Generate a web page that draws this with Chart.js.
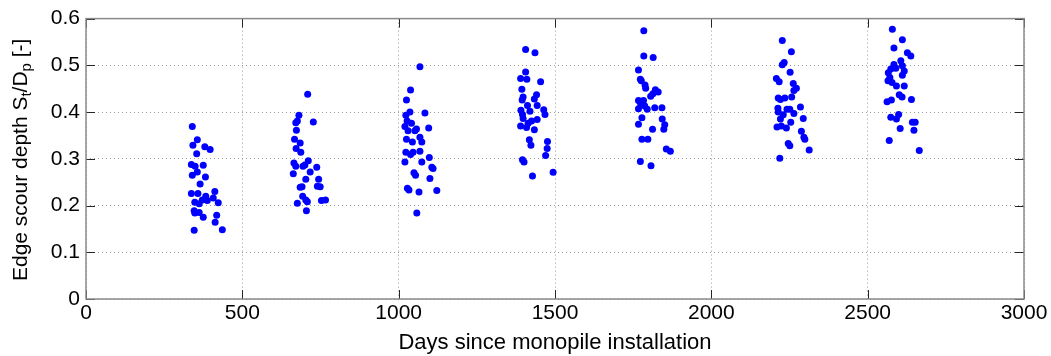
<!DOCTYPE html>
<html>
<head>
<meta charset="utf-8">
<script src="https://cdn.jsdelivr.net/npm/chart.js@4.4.1/dist/chart.umd.min.js"></script>
<style>
  html, body { margin: 0; padding: 0; background: #fff; }
  #wrap { width: 1051px; height: 356px; }
</style>
</head>
<body>
<div id="wrap"><canvas id="scour" width="1051" height="356"></canvas></div>
<script>
// survey campaigns: days since installation and edge scour depth S_t/D_p
const days1 = [340, 356, 342, 380, 397, 354, 337, 349, 375, 356, 340, 382, 365, 337, 358, 412, 383, 407, 372, 348, 362, 388, 423, 346, 362, 348, 375, 418, 413, 346, 436];
const depth1 = [0.369, 0.341, 0.329, 0.326, 0.320, 0.311, 0.288, 0.284, 0.286, 0.272, 0.265, 0.261, 0.246, 0.226, 0.226, 0.230, 0.220, 0.216, 0.212, 0.207, 0.204, 0.211, 0.206, 0.189, 0.185, 0.184, 0.175, 0.179, 0.164, 0.147, 0.148];

const days2 = [709, 681, 676, 671, 727, 673, 667, 685, 672, 687, 665, 671, 711, 700, 694, 738, 717, 663, 703, 744, 685, 691, 740, 749, 693, 703, 676, 708, 753, 766, 705];
const depth2 = [0.438, 0.393, 0.381, 0.377, 0.379, 0.361, 0.342, 0.334, 0.322, 0.314, 0.291, 0.284, 0.296, 0.287, 0.284, 0.282, 0.272, 0.268, 0.256, 0.256, 0.239, 0.240, 0.241, 0.240, 0.220, 0.212, 0.205, 0.208, 0.211, 0.212, 0.189];

const days3 = [1068, 1038, 1025, 1036, 1023, 1084, 1027, 1041, 1020, 1030, 1057, 1096, 1052, 1025, 1044, 1068, 1074, 1023, 1038, 1046, 1068, 1098, 1020, 1074, 1106, 1110, 1049, 1054, 1100, 1028, 1033, 1065, 1122, 1058];
const depth3 = [0.497, 0.447, 0.426, 0.400, 0.393, 0.398, 0.381, 0.376, 0.369, 0.360, 0.364, 0.366, 0.360, 0.342, 0.336, 0.346, 0.336, 0.314, 0.309, 0.314, 0.316, 0.303, 0.293, 0.293, 0.282, 0.279, 0.270, 0.265, 0.258, 0.237, 0.233, 0.229, 0.232, 0.184];

const days4 = [1406, 1436, 1406, 1390, 1410, 1454, 1394, 1398, 1395, 1441, 1434, 1412, 1443, 1391, 1420, 1396, 1464, 1468, 1398, 1443, 1425, 1414, 1390, 1409, 1434, 1418, 1423, 1476, 1475, 1470, 1396, 1401, 1428, 1494];
const depth4 = [0.534, 0.527, 0.486, 0.472, 0.470, 0.465, 0.449, 0.432, 0.426, 0.437, 0.428, 0.414, 0.414, 0.404, 0.402, 0.395, 0.405, 0.395, 0.386, 0.384, 0.381, 0.376, 0.370, 0.367, 0.362, 0.341, 0.329, 0.337, 0.322, 0.307, 0.298, 0.293, 0.263, 0.271];

const days5 = [1784, 1784, 1814, 1767, 1773, 1776, 1788, 1790, 1821, 1830, 1806, 1813, 1767, 1783, 1774, 1787, 1767, 1795, 1819, 1842, 1778, 1843, 1767, 1851, 1848, 1812, 1778, 1797, 1856, 1869, 1773, 1807];
const depth5 = [0.574, 0.520, 0.517, 0.490, 0.470, 0.467, 0.458, 0.451, 0.448, 0.443, 0.434, 0.439, 0.425, 0.425, 0.418, 0.413, 0.407, 0.406, 0.409, 0.409, 0.388, 0.385, 0.374, 0.373, 0.363, 0.363, 0.342, 0.342, 0.321, 0.316, 0.294, 0.285];

const days6 = [2227, 2256, 2233, 2227, 2252, 2208, 2217, 2262, 2272, 2264, 2257, 2214, 2221, 2235, 2285, 2213, 2242, 2251, 2214, 2264, 2230, 2221, 2294, 2254, 2210, 2224, 2240, 2288, 2296, 2299, 2246, 2251, 2313, 2219];
const depth6 = [0.553, 0.529, 0.506, 0.501, 0.485, 0.472, 0.465, 0.461, 0.451, 0.446, 0.432, 0.430, 0.427, 0.430, 0.411, 0.408, 0.406, 0.406, 0.400, 0.397, 0.394, 0.385, 0.386, 0.378, 0.368, 0.370, 0.366, 0.359, 0.346, 0.342, 0.333, 0.328, 0.319, 0.301];

const days7 = [2579, 2611, 2584, 2627, 2638, 2606, 2584, 2611, 2574, 2590, 2617, 2566, 2611, 2571, 2565, 2578, 2592, 2617, 2601, 2610, 2640, 2562, 2576, 2599, 2574, 2592, 2643, 2652, 2604, 2648, 2569, 2665];
const depth7 = [0.577, 0.555, 0.537, 0.527, 0.520, 0.510, 0.502, 0.499, 0.492, 0.494, 0.488, 0.484, 0.479, 0.474, 0.467, 0.463, 0.456, 0.456, 0.437, 0.432, 0.427, 0.422, 0.426, 0.395, 0.389, 0.385, 0.378, 0.378, 0.365, 0.361, 0.339, 0.318];

const xTicks = [0, 500, 1000, 1500, 2000, 2500, 3000];
const yTicks = [0, 0.1, 0.2, 0.3, 0.4, 0.5, 0.6];
const xTitle = 'Days since monopile installation';

const FONT = '"Liberation Sans", Arial, Helvetica, sans-serif';

const allDays = [days1, days2, days3, days4, days5, days6, days7];
const allDepth = [depth1, depth2, depth3, depth4, depth5, depth6, depth7];
const points = [];
allDays.forEach((ds, i) => {
  ds.forEach((d, j) => points.push({ x: d, y: allDepth[i][j] }));
});

// box, inward tick marks and the y title with subscripts
const matlabAxes = {
  id: 'matlabAxes',
  afterDraw(chart) {
    const { ctx, chartArea: a, scales: { x, y } } = chart;
    ctx.save();
    ctx.strokeStyle = '#262626';
    ctx.lineWidth = 1;
    ctx.beginPath();
    xTicks.forEach(v => {
      const px = Math.round(x.getPixelForValue(v)) + 0.5;
      ctx.moveTo(px, a.bottom); ctx.lineTo(px, a.bottom - 9);
      ctx.moveTo(px, a.top); ctx.lineTo(px, a.top + 9);
    });
    yTicks.forEach(v => {
      const py = Math.round(y.getPixelForValue(v)) + 0.5;
      ctx.moveTo(a.left, py); ctx.lineTo(a.left + 9, py);
      ctx.moveTo(a.right, py); ctx.lineTo(a.right - 9, py);
    });
    ctx.stroke();

    ctx.strokeStyle = '#8a8a8a';
    ctx.lineWidth = 1.5;
    ctx.strokeRect(a.left, a.top, a.right - a.left, a.bottom - a.top);

    // y axis title: Edge scour depth S_t/D_p [-]
    const big = '21px ' + FONT;
    const small = '15px ' + FONT;
    const parts = [
      { t: 'Edge scour depth S', f: big, dy: 0 },
      { t: 't', f: small, dy: 6 },
      { t: '/D', f: big, dy: 0 },
      { t: 'p', f: small, dy: 6 },
      { t: ' [-]', f: big, dy: 0 }
    ];
    let total = 0;
    parts.forEach(p => { ctx.font = p.f; p.w = ctx.measureText(p.t).width; total += p.w; });
    ctx.translate(21, (a.top + a.bottom) / 2 + 1);
    ctx.rotate(-Math.PI / 2);
    ctx.fillStyle = '#000';
    ctx.textBaseline = 'middle';
    let cx = -total / 2;
    parts.forEach(p => {
      ctx.font = p.f;
      ctx.fillText(p.t, cx, p.dy);
      cx += p.w;
    });
    ctx.restore();
  }
};

new Chart(document.getElementById('scour'), {
  type: 'scatter',
  data: {
    datasets: [{
      data: points,
      backgroundColor: '#0000ff',
      borderWidth: 0,
      pointRadius: 3.5
    }]
  },
  options: {
    responsive: false,
    animation: false,
    layout: { padding: { top: 14, right: 27, left: 0, bottom: 0 } },
    plugins: { legend: { display: false }, tooltip: { enabled: false } },
    scales: {
      x: {
        type: 'linear',
        min: 0,
        max: 3000,
        afterBuildTicks: s => { s.ticks = xTicks.map(v => ({ value: v })); },
        afterFit: s => { s.height = 57; },
        ticks: { color: '#000', font: { family: FONT, size: 21 }, padding: 2, maxRotation: 0, autoSkip: false, callback: v => String(v) },
        grid: { color: '#9a9a9a', lineWidth: 1, drawTicks: false },
        border: { display: false, dash: [1, 3] },
        title: { display: true, text: xTitle, color: '#000', font: { family: FONT, size: 22 }, padding: { top: 0, bottom: 0 } }
      },
      y: {
        min: 0,
        max: 0.6,
        afterBuildTicks: s => { s.ticks = yTicks.map(v => ({ value: v })); },
        afterFit: s => { s.width = 86; },
        ticks: { color: '#000', font: { family: FONT, size: 21 }, padding: 6, callback: v => String(+v.toFixed(1)) },
        grid: { color: '#9a9a9a', lineWidth: 1, drawTicks: false },
        border: { display: false, dash: [1, 3] }
      }
    }
  },
  plugins: [matlabAxes]
});
</script>
</body>
</html>
